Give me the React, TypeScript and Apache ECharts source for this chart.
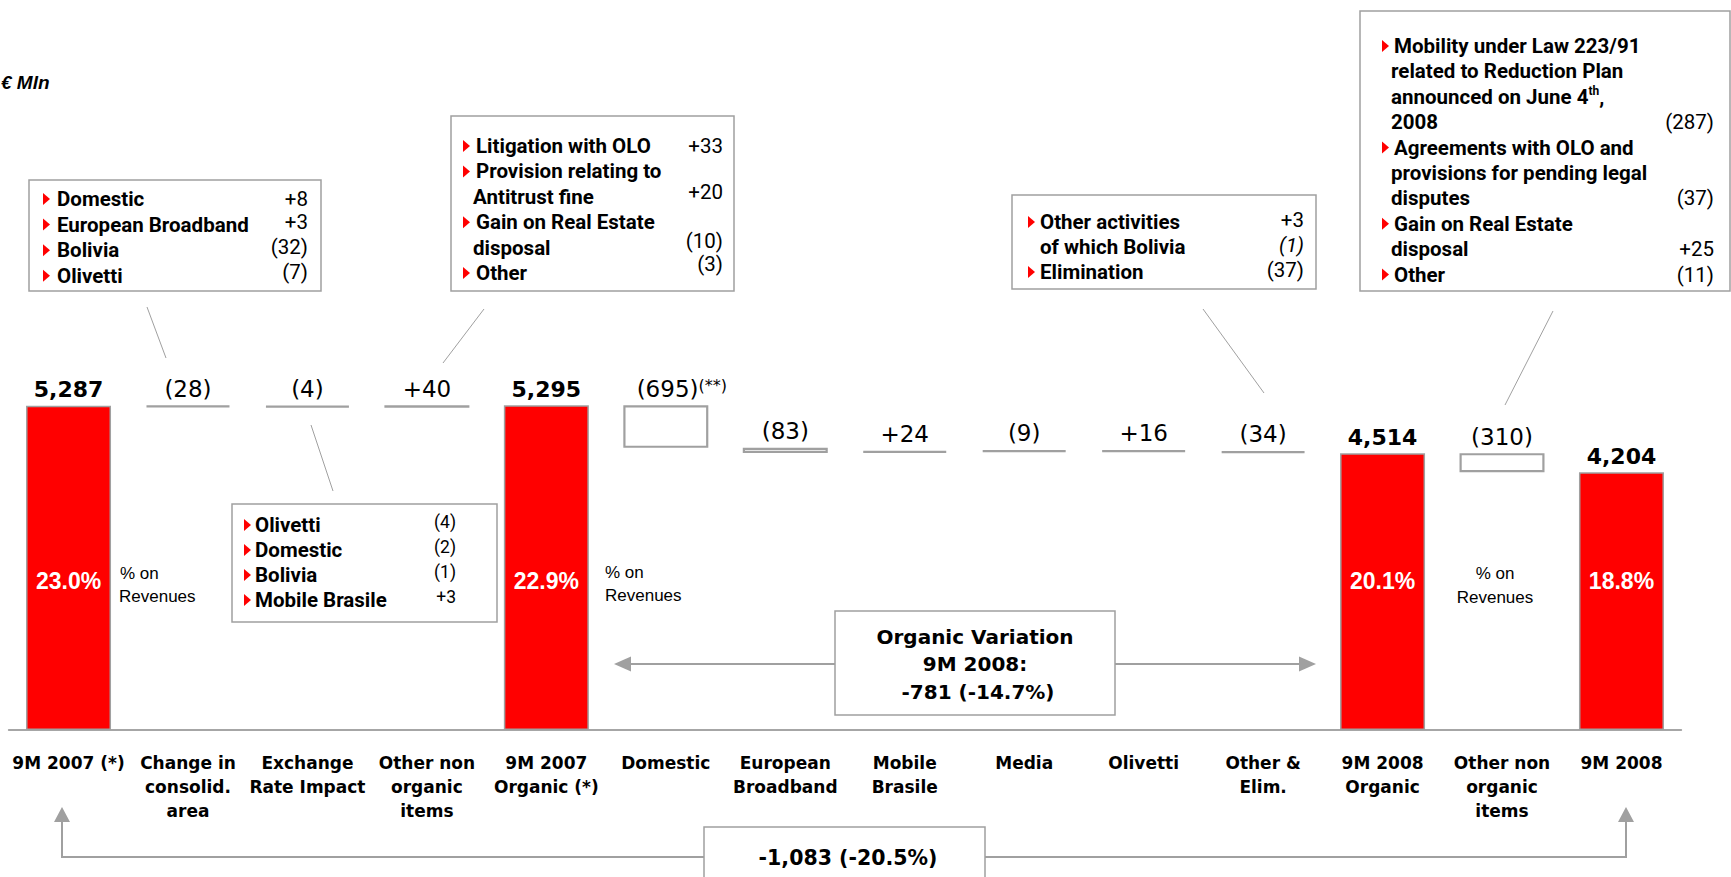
import React, { useEffect, useRef } from "react";
import * as echarts from "echarts";

// ---------- DATA ----------
const categories = [
  "9M 2007 (*)",
  "Change in\nconsolid.\narea",
  "Exchange\nRate Impact",
  "Other non\norganic\nitems",
  "9M 2007\nOrganic (*)",
  "Domestic",
  "European\nBroadband",
  "Mobile\nBrasile",
  "Media",
  "Olivetti",
  "Other &\nElim.",
  "9M 2008\nOrganic",
  "Other non\norganic\nitems",
  "9M 2008",
];
const totals = [5287, null, null, null, 5295, null, null, null, null, null, null, 4514, null, 4204];
const deltas = [null, -28, -4, 40, null, -695, -83, 24, -9, 16, -34, null, -310, null];
const marginOnRevenues = ["23.0%", "", "", "", "22.9%", "", "", "", "", "", "", "20.1%", "", "18.8%"];
const deltaNotes = ["", "", "", "", "", "(**)", "", "", "", "", "", "", "", ""];

const unitLabel = "€ Mln";
const organicVariation = ["Organic Variation", "9M 2008:", "-781 (-14.7%)"];
const totalVariation = "-1,083 (-20.5%)";
const pctNote = ["% on", "Revenues"];

type Line = { text: string; bullet: boolean; value?: string; italic?: boolean };
const boxConsolid: Line[] = [
  { text: "Domestic", bullet: true, value: "+8" },
  { text: "European Broadband", bullet: true, value: "+3" },
  { text: "Bolivia", bullet: true, value: "(32)" },
  { text: "Olivetti", bullet: true, value: "(7)" },
];
const boxOtherNonOrganic07: Line[] = [
  { text: "Litigation with OLO", bullet: true, value: "+33" },
  { text: "Provision relating to", bullet: true },
  { text: "Antitrust fine", bullet: false, value: "+20" },
  { text: "Gain on Real Estate", bullet: true },
  { text: "disposal", bullet: false, value: "(10)" },
  { text: "Other", bullet: true, value: "(3)" },
];
const boxOtherElim: Line[] = [
  { text: "Other activities", bullet: true, value: "+3" },
  { text: "of which Bolivia", bullet: false, value: "(1)", italic: true },
  { text: "Elimination", bullet: true, value: "(37)" },
];
const boxOtherNonOrganic08: Line[] = [
  { text: "Mobility under Law 223/91", bullet: true },
  { text: "related to Reduction Plan", bullet: false },
  { text: "announced on June 4{sup|th},", bullet: false },
  { text: "2008", bullet: false, value: "(287)" },
  { text: "Agreements with OLO and", bullet: true },
  { text: "provisions for pending legal", bullet: false },
  { text: "disputes", bullet: false, value: "(37)" },
  { text: "Gain on Real Estate", bullet: true },
  { text: "disposal", bullet: false, value: "+25" },
  { text: "Other", bullet: true, value: "(11)" },
];
const boxExchange: Line[] = [
  { text: "Olivetti", bullet: true, value: "(4)" },
  { text: "Domestic", bullet: true, value: "(2)" },
  { text: "Bolivia", bullet: true, value: "(1)" },
  { text: "Mobile Brasile", bullet: true, value: "+3" },
];

// ---------- STYLE ----------
const RED = "#ff0000";
const GRAY = "#a0a0a0";
const ANNO_FONT = "Roboto";
const CHART_FONT = "DejaVu Sans";

function buildBox(
  lines: Line[],
  L: { x: number; y: number; w: number; h: number; mx: number; tx: number; cx: number; vr: number; y0: number; step: number; vdy: number[]; vfs: number }
) {
  const els: any[] = [
    { type: "rect", shape: { x: L.x, y: L.y, width: L.w, height: L.h }, style: { fill: "#fff", stroke: GRAY, lineWidth: 1.5 }, silent: true },
  ];
  lines.forEach((ln, i) => {
    const y = L.y0 + i * L.step;
    if (ln.bullet) {
      els.push({ type: "polygon", shape: { points: [[L.mx, y - 6], [L.mx + 7, y], [L.mx, y + 6]] }, style: { fill: RED }, silent: true });
    }
    els.push({
      type: "text",
      x: ln.bullet ? L.tx : L.cx,
      y,
      style: {
        text: ln.text,
        fill: "#000",
        fontFamily: ANNO_FONT,
        fontWeight: "bold",
        fontSize: 20.5,
        lineHeight: 24,
        align: "left",
        verticalAlign: "middle",
        rich: { sup: { fontFamily: ANNO_FONT, fontWeight: "bold", fontSize: 12, lineHeight: 12, verticalAlign: "top" } },
      },
      silent: true,
    });
    if (ln.value) {
      els.push({
        type: "text",
        x: L.vr,
        y: y + (L.vdy[i] || 0),
        style: {
          text: ln.value,
          fill: "#000",
          fontFamily: ANNO_FONT,
          fontWeight: "normal",
          fontStyle: ln.italic ? "italic" : "normal",
          fontSize: L.vfs,
          align: "right",
          verticalAlign: "middle",
        },
        silent: true,
      });
    }
  });
  return els;
}

const line = (x1: number, y1: number, x2: number, y2: number, w = 1) => ({
  type: "line",
  shape: { x1, y1, x2, y2 },
  style: { stroke: GRAY, lineWidth: w },
  silent: true,
});
const poly = (pts: number[][]) => ({ type: "polygon", shape: { points: pts }, style: { fill: GRAY }, silent: true });
const txt = (x: number, y: number, text: string, o: any = {}) => ({
  type: "text",
  x,
  y,
  style: { text, fill: "#000", align: "left", verticalAlign: "middle", ...o },
  silent: true,
});

export default function App() {
  const ref = useRef<HTMLDivElement>(null);

  useEffect(() => {
    document.body.style.margin = "0";
    if (!ref.current) return;
    const chart = echarts.init(ref.current, undefined, { renderer: "svg" });

    // waterfall pieces from the values
    let running = 0;
    const baseData: any[] = [];
    const deltaData: any[] = [];
    const totalData: any[] = [];
    categories.forEach((_, i) => {
      const t = totals[i];
      if (t != null) {
        running = t;
        baseData.push(0);
        deltaData.push("-");
        totalData.push(t);
      } else {
        const d = deltas[i] as number;
        const next = running + d;
        baseData.push(Math.min(running, next));
        deltaData.push(Math.abs(d));
        totalData.push("-");
        running = next;
      }
    });

    const fmtDelta = (d: number) => (d < 0 ? `(${Math.abs(d)})` : `+${d}`);

    const graphic: any[] = [
      txt(1, 82, unitLabel, { fontFamily: "Liberation Sans", fontWeight: "bold", fontStyle: "italic", fontSize: 19 }),
      // connectors
      line(147, 307, 166, 358),
      line(484, 309, 443, 363),
      line(311, 425, 333, 491),
      line(1203, 309, 1264, 393),
      line(1553, 311, 1505, 405),
      ...buildBox(boxConsolid, { x: 29, y: 180, w: 292, h: 111, mx: 43, tx: 57, cx: 57, vr: 308, y0: 199, step: 25.6, vdy: [0, -2.5, -3, -3.5], vfs: 20.5 }),
      ...buildBox(boxOtherNonOrganic07, { x: 451, y: 116, w: 283, h: 175, mx: 463, tx: 476, cx: 473, vr: 723, y0: 146, step: 25.4, vdy: [0, 0, -5, 0, -6.6, -9], vfs: 20.5 }),
      ...buildBox(boxOtherElim, { x: 1012, y: 195, w: 304, h: 94, mx: 1028, tx: 1040, cx: 1040, vr: 1304, y0: 222, step: 25, vdy: [-2, -2, -2], vfs: 20.5 }),
      ...buildBox(boxOtherNonOrganic08, { x: 1360, y: 11, w: 370, h: 280, mx: 1382, tx: 1394, cx: 1391, vr: 1714, y0: 46, step: 25.4, vdy: [], vfs: 20.5 }),
      ...buildBox(boxExchange, { x: 232, y: 504, w: 265, h: 118, mx: 244, tx: 255, cx: 255, vr: 456, y0: 525, step: 25, vdy: [-3, -3, -3, -3], vfs: 17.5 }),
      // % on revenues notes
      txt(120, 573, pctNote[0], { fontFamily: "Liberation Sans", fontSize: 17 }),
      txt(119, 596, pctNote[1], { fontFamily: "Liberation Sans", fontSize: 17 }),
      txt(605, 572, pctNote[0], { fontFamily: "Liberation Sans", fontSize: 17 }),
      txt(605, 595, pctNote[1], { fontFamily: "Liberation Sans", fontSize: 17 }),
      txt(1495, 573, pctNote[0], { fontFamily: "Liberation Sans", fontSize: 17, align: "center" }),
      txt(1495, 597, pctNote[1], { fontFamily: "Liberation Sans", fontSize: 17, align: "center" }),
      // organic variation arrows + box
      line(628, 664, 835, 664, 2),
      poly([[614, 664], [631, 656.5], [631, 671.5]]),
      line(1115, 664, 1302, 664, 2),
      poly([[1316, 664], [1299, 656.5], [1299, 671.5]]),
      { type: "rect", shape: { x: 835, y: 611, width: 280, height: 104 }, style: { fill: "#fff", stroke: GRAY, lineWidth: 1.5 }, silent: true },
      txt(975, 637, organicVariation[0], { fontFamily: CHART_FONT, fontWeight: "bold", fontSize: 20, align: "center" }),
      txt(975, 664, organicVariation[1], { fontFamily: CHART_FONT, fontWeight: "bold", fontSize: 20, align: "center" }),
      txt(978, 692, organicVariation[2], { fontFamily: CHART_FONT, fontWeight: "bold", fontSize: 20, align: "center" }),
      // total variation arrows + box
      { type: "polyline", shape: { points: [[704, 857], [62, 857], [62, 820]] }, style: { stroke: GRAY, lineWidth: 2, fill: null }, silent: true },
      poly([[62, 807], [54, 822], [70, 822]]),
      { type: "polyline", shape: { points: [[985, 857], [1626, 857], [1626, 820]] }, style: { stroke: GRAY, lineWidth: 2, fill: null }, silent: true },
      poly([[1626, 807], [1618, 822], [1634, 822]]),
      { type: "rect", shape: { x: 704, y: 827, width: 281, height: 70 }, style: { fill: "#fff", stroke: GRAY, lineWidth: 1.5 }, silent: true },
      txt(848, 858, totalVariation, { fontFamily: CHART_FONT, fontWeight: "bold", fontSize: 20.5, align: "center" }),
    ];

    chart.setOption({
      animation: false,
      backgroundColor: "#ffffff",
      grid: { left: 8.8, right: 49.8, top: 362, bottom: 147, containLabel: false },
      xAxis: {
        type: "category",
        data: categories,
        axisTick: { show: false },
        axisLine: { show: true, lineStyle: { color: "#a6a6a6", width: 2 } },
        axisLabel: {
          interval: 0,
          margin: 21,
          color: "#000",
          fontFamily: CHART_FONT,
          fontWeight: "bold",
          fontSize: 17,
          lineHeight: 24,
        },
      },
      yAxis: { type: "value", min: 0, max: 6000, show: false, splitLine: { show: false } },
      series: [
        {
          name: "base",
          type: "bar",
          stack: "wf",
          barWidth: 85,
          z: 3,
          data: baseData,
          itemStyle: { color: "transparent", borderWidth: 0 },
          emphasis: { disabled: true },
          label: {
            show: true,
            position: "insideBottom",
            distance: 137.5,
            formatter: (p: any) => marginOnRevenues[p.dataIndex] || "",
            color: "#fff",
            fontFamily: "Liberation Sans",
            fontWeight: "bold",
            fontSize: 23,
            lineHeight: 23,
          },
        },
        {
          name: "delta",
          type: "bar",
          stack: "wf",
          barWidth: 85,
          barMinHeight: 2,
          data: deltaData,
          itemStyle: { color: "#ffffff", borderColor: GRAY, borderWidth: 2.2 },
          emphasis: { disabled: true },
          label: {
            show: true,
            position: "top",
            distance: 5,
            formatter: (p: any) => {
              const d = deltas[p.dataIndex] as number;
              const n = deltaNotes[p.dataIndex];
              return n ? `{v|${fmtDelta(d)}}{s|${n}}` : `{v|${fmtDelta(d)}}`;
            },
            color: "#000",
            fontFamily: CHART_FONT,
            fontSize: 23,
            lineHeight: 23,
            rich: {
              v: { fontFamily: CHART_FONT, fontSize: 23, lineHeight: 23, color: "#000" },
              s: { fontFamily: CHART_FONT, fontSize: 16, lineHeight: 14, verticalAlign: "top", color: "#000" },
            },
          },
          labelLayout: (p: any) => (deltaNotes[p.dataIndex] ? { dx: 16 } : {}),
        },
        {
          name: "total",
          type: "bar",
          stack: "wf",
          barWidth: 85,
          data: totalData,
          itemStyle: { color: RED, borderColor: GRAY, borderWidth: 1.5 },
          emphasis: { disabled: true },
          label: {
            show: true,
            position: "top",
            distance: 5,
            formatter: (p: any) => Number(p.value).toLocaleString("en-US"),
            color: "#000",
            fontFamily: CHART_FONT,
            fontWeight: "bold",
            fontSize: 22,
            lineHeight: 22,
          },
        },
      ],
      graphic,
    });

    return () => chart.dispose();
  }, []);

  return <div ref={ref} style={{ position: "fixed", left: 0, top: 0, width: 1731, height: 877 }} />;
}
